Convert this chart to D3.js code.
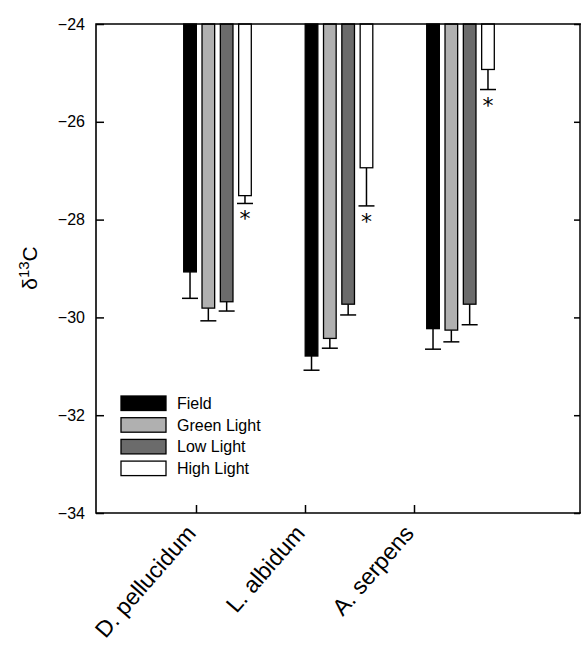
<!DOCTYPE html>
<html>
<head>
<meta charset="utf-8">
<script src="https://cdn.jsdelivr.net/npm/d3@7"></script>
<style>
  body { margin: 0; background: #fff; }
  svg text { font-family: Arial, "Liberation Sans", sans-serif; fill: #000; }
</style>
</head>
<body>
<script>
"use strict";

// data
var categories = ["D. pellucidum", "L. albidum", "A. serpens"];
var seriesNames = ["Field", "Green Light", "Low Light", "High Light"];
var seriesColors = ["#000000", "#b0b0b0", "#6b6b6b", "#ffffff"];
var fieldMean = [-29.07, -30.79, -30.23];
var greenMean = [-29.81, -30.43, -30.26];
var lowMean = [-29.68, -29.73, -29.73];
var highMean = [-27.51, -26.94, -24.93];
var fieldErr = [0.54, 0.29, 0.42];
var greenErr = [0.26, 0.20, 0.24];
var lowErr = [0.19, 0.22, 0.42];
var highErr = [0.16, 0.78, 0.41];
var starred = [false, false, false, true]; // High Light differs
var yTicks = [-24, -26, -28, -30, -32, -34];

function draw_chart() {
    var width = 581;
    var height = 646;
    var left = 96, right = 581, top = 24, bottom = 513;

    var means = [fieldMean, greenMean, lowMean, highMean];
    var errs = [fieldErr, greenErr, lowErr, highErr];

    var svg = d3.select("body")
        .append("svg")
        .attr("width", width)
        .attr("height", height);

    var y = d3.scaleLinear()
        .domain([-24, -34])
        .range([top, bottom]);

    // bar groups and the tick labels sit on slightly different spacings
    var xGroup = d3.scalePoint()
        .domain(categories)
        .range([217.5, 460.5]);
    var xSeries = d3.scaleBand()
        .domain(seriesNames)
        .range([-33.8, 33.8])
        .paddingInner(0.31);
    var xTick = d3.scalePoint()
        .domain(categories)
        .range([196, 414]);

    var rows = [];
    categories.forEach(function(c, i) {
        seriesNames.forEach(function(s, j) {
            rows.push({cat: c, ser: s, j: j, v: means[j][i], e: errs[j][i]});
        });
    });

    function mid(d) { return xGroup(d.cat) + xSeries(d.ser) + xSeries.bandwidth() / 2; }

    // error bars (downward only)
    var eb = svg.append("g")
        .attr("stroke", "#000")
        .attr("stroke-width", 1.5);
    eb.selectAll("line.stem")
        .data(rows)
        .enter()
        .append("line")
        .attr("class", "stem")
        .attr("x1", mid)
        .attr("x2", mid)
        .attr("y1", function(d) { return y(d.v); })
        .attr("y2", function(d) { return y(d.v - d.e); });
    eb.selectAll("line.cap")
        .data(rows)
        .enter()
        .append("line")
        .attr("class", "cap")
        .attr("x1", function(d) { return mid(d) - 8; })
        .attr("x2", function(d) { return mid(d) + 8; })
        .attr("y1", function(d) { return y(d.v - d.e); })
        .attr("y2", function(d) { return y(d.v - d.e); });

    // bars hang from the top of the axis
    svg.append("g")
        .selectAll("rect")
        .data(rows)
        .enter()
        .append("rect")
        .attr("x", function(d) { return xGroup(d.cat) + xSeries(d.ser); })
        .attr("y", y(-24))
        .attr("width", xSeries.bandwidth())
        .attr("height", function(d) { return y(d.v) - y(-24); })
        .attr("fill", function(d) { return seriesColors[d.j]; })
        .attr("stroke", "#000")
        .attr("stroke-width", 1.3);

    // significance stars
    svg.append("g")
        .selectAll("text")
        .data(rows.filter(function(d) { return starred[d.j]; }))
        .enter()
        .append("text")
        .attr("x", mid)
        .attr("y", function(d) { return y(d.v - d.e) + 23; })
        .attr("text-anchor", "middle")
        .style("font-size", "22px")
        .style("font-family", "'DejaVu Sans', sans-serif")
        .text("*");

    // frame and axes
    var yAxisL = d3.axisLeft(y).tickValues(yTicks).tickSize(-8).tickPadding(11);
    var yAxisR = d3.axisRight(y).tickValues(yTicks).tickSize(-6).tickFormat("");
    var xAxisB = d3.axisBottom(xTick).tickSize(-8).tickFormat("");

    var gl = svg.append("g").attr("transform", "translate(" + left + ",0)").call(yAxisL);
    var gr = svg.append("g").attr("transform", "translate(" + (right - 1) + ",0)").call(yAxisR);
    var gb = svg.append("g").attr("transform", "translate(0," + bottom + ")").call(xAxisB);
    [gl, gr, gb].forEach(function(g) {
        g.select(".domain").remove();
        g.selectAll("line").attr("stroke", "#000").attr("stroke-width", 1.5);
    });
    gl.selectAll("text")
        .style("font-size", "16px")
        .style("font-family", "Arial, 'Liberation Sans', sans-serif")
        .attr("fill", "#000");

    svg.append("path")
        .attr("d", "M" + (right + 2) + "," + top + "H" + left + "V" + bottom + "H" + (right + 2))
        .attr("fill", "none")
        .attr("stroke", "#000")
        .attr("stroke-width", 1.6);
    svg.append("line")
        .attr("x1", right - 1).attr("x2", right - 1)
        .attr("y1", top).attr("y2", bottom)
        .attr("stroke", "#000").attr("stroke-width", 1.5);

    // category labels, rotated
    svg.append("g")
        .selectAll("text")
        .data(categories)
        .enter()
        .append("text")
        .attr("transform", function(d) { return "translate(" + (xTick(d) + 1) + "," + (bottom + 21) + ")rotate(-49)"; })
        .attr("text-anchor", "end")
        .style("font-size", "23px")
        .text(function(d) { return d; });

    // y title
    var yt = svg.append("text")
        .attr("transform", "translate(37,268)rotate(-90)")
        .attr("text-anchor", "middle")
        .style("font-size", "21px");
    yt.append("tspan").text("\u03b4");
    yt.append("tspan").attr("dy", -8).style("font-size", "15px").text("13");
    yt.append("tspan").attr("dy", 8).text("C");

    // legend
    var lg = svg.append("g").attr("transform", "translate(121,396)");
    var item = lg.selectAll("g")
        .data(seriesNames)
        .enter()
        .append("g")
        .attr("transform", function(d, i) { return "translate(0," + i * 21.7 + ")"; });
    item.append("rect")
        .attr("width", 45)
        .attr("height", 14.5)
        .attr("fill", function(d, i) { return seriesColors[i]; })
        .attr("stroke", "#000")
        .attr("stroke-width", 1.3);
    item.append("text")
        .attr("x", 56)
        .attr("y", 13)
        .style("font-size", "16px")
        .text(function(d) { return d; });
}

draw_chart();
</script>
</body>
</html>
